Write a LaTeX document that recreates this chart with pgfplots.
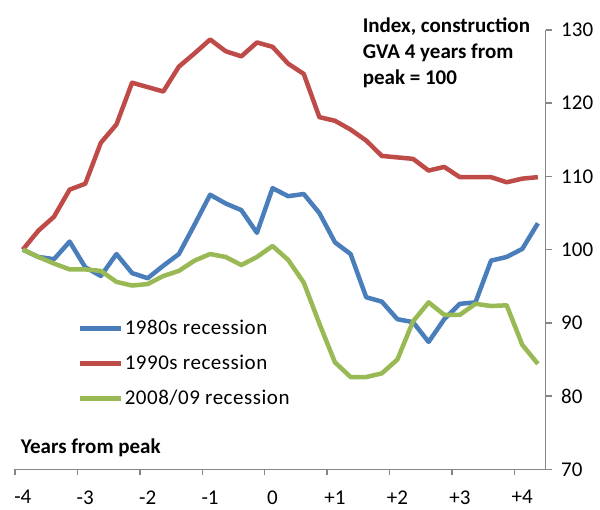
\documentclass[border=0pt]{standalone}
\usepackage{fontspec}
\setmainfont{Carlito}
\usepackage{pgfplots}
\usepackage{pgfplotstable}
\pgfplotsset{compat=1.18}
\definecolor{c80}{HTML}{4A7EBB}
\definecolor{c90}{HTML}{BE4B48}
\definecolor{c08}{HTML}{98B954}
\definecolor{axgray}{HTML}{868686}
\pgfplotstableread{
x a b c
-3.875 100.0 100.0 100.0
-3.625 99.0 102.6 99.0
-3.375 98.7 104.5 98.1
-3.125 101.1 108.2 97.3
-2.875 97.6 109.0 97.3
-2.625 96.4 114.6 97.1
-2.375 99.4 117.1 95.6
-2.125 96.8 122.8 95.1
-1.875 96.1 122.2 95.3
-1.625 97.8 121.6 96.4
-1.375 99.4 125.0 97.1
-1.125 103.4 126.8 98.5
-0.875 107.5 128.7 99.4
-0.625 106.3 127.1 99.0
-0.375 105.4 126.4 97.9
-0.125 102.3 128.3 99.0
0.125 108.4 127.7 100.5
0.375 107.3 125.4 98.6
0.625 107.6 124.0 95.5
0.875 105.0 118.1 89.9
1.125 101.0 117.6 84.6
1.375 99.4 116.4 82.6
1.625 93.5 114.9 82.6
1.875 92.9 112.8 83.1
2.125 90.5 112.6 85.0
2.375 90.1 112.4 90.2
2.625 87.4 110.8 92.8
2.875 90.5 111.3 91.1
3.125 92.6 109.9 91.1
3.375 92.8 109.9 92.6
3.625 98.5 109.9 92.3
3.875 99.0 109.2 92.4
4.125 100.1 109.7 87.0
4.375 103.6 109.9 84.4
}\datatable
\begin{document}
\begin{tikzpicture}[font=\fontsize{21}{25}\selectfont]
\begin{axis}[
 scale only axis, width=530.7pt, height=439.3pt,
 xmin=-4, xmax=4.5, ymin=70, ymax=130,
 axis x line*=bottom, axis y line*=right,
 axis line style={axgray, line width=1.5pt},
 tick style={axgray, line width=1.5pt},
 tick align=outside, major tick length=6pt,
 xtick={-4,-3,-2,-1,0,1,2,3,4},
 xticklabels={-4,-3,-2,-1,0,+1,+2,+3,+4},
 xticklabel style={inner sep=0pt, xshift=7.8pt, yshift=-15pt},
 ytick={70,80,90,100,110,120,130},
 yticklabels={70,80,90,100,110,120,130},
 yticklabel style={anchor=west, xshift=6pt},
 clip=false,
 legend style={draw=none, fill=none, at={(rel axis cs:0.117,0.344)}, anchor=north west,
   inner sep=0pt, row sep=15pt, nodes={inner sep=2pt},
   font=\fontsize{21}{25}\selectfont\addfontfeatures{LetterSpace=2.5}},
 legend cell align=left,
 legend image code/.code={\draw[#1, line width=4.5pt] (0pt,0pt) -- (41pt,0pt);},
 every axis plot/.append style={line width=4.5pt, line join=round, mark=none},
]
\addplot[c80] table[x=x, y=a] {\datatable};
\addlegendentry{1980s recession}
\addplot[c90] table[x=x, y=b] {\datatable};
\addlegendentry{1990s recession}
\addplot[c08] table[x=x, y=c] {\datatable};
\addlegendentry{2008/09 recession}
\node[anchor=north west, align=left, font=\fontsize{21}{26}\selectfont\bfseries, inner sep=0pt]
  at (rel axis cs:0.655,1.028) {Index, construction\\GVA 4 years from\\peak = 100};
\node[anchor=base west, font=\fontsize{21}{25}\selectfont\bfseries, inner sep=0pt] at (rel axis cs:0.0107,0.037) {Years from peak};
\end{axis}
\pgfresetboundingbox
\useasboundingbox (-15pt,-39.7pt) rectangle (585pt,469.3pt);
\end{tikzpicture}
\end{document}
